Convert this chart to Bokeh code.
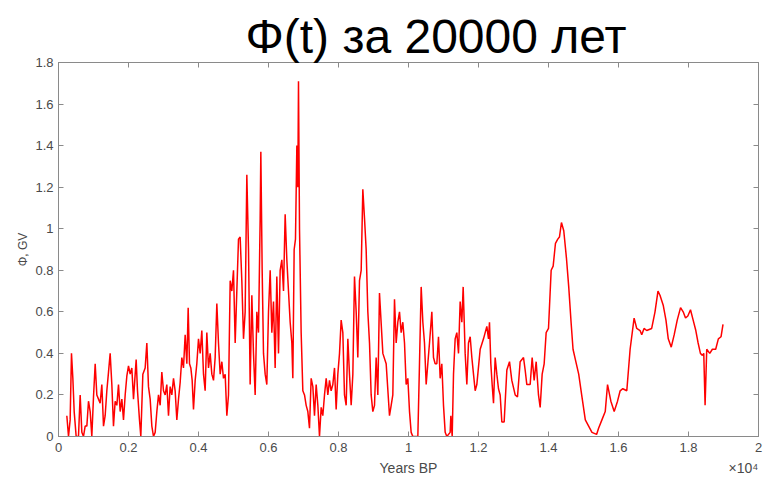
from bokeh.plotting import figure
from bokeh.models import (Range1d, FixedTicker, LinearAxis, Title)
from bokeh.embed import file_html
from bokeh.resources import INLINE

# ---- data (years BP, Phi in GV) ----
years_a = [238, 286, 333, 371, 410, 448, 505, 571, 619, 667, 714, 762, 810, 857, 905, 952,
           1000, 1048, 1095, 1143, 1190, 1238, 1286, 1333, 1381, 1429, 1476, 1524, 1571, 1619,
           1667, 1714, 1762, 1810, 1857, 1905, 1952, 2000, 2048, 2095, 2143, 2219, 2257, 2314,
           2352, 2410, 2476, 2524, 2571, 2619, 2667, 2714, 2762, 2810, 2857, 2905, 2952, 3000,
           3048, 3095, 3143, 3190, 3238, 3286, 3333, 3381, 3429, 3476, 3524, 3571, 3619, 3667,
           3705, 3743, 3781, 3819, 3857, 3905, 3952, 4000, 4048, 4095, 4143, 4190, 4238, 4286,
           4333, 4381, 4429, 4476, 4524, 4571, 4619, 4667, 4714, 4762, 4810, 4857, 4905, 4952,
           5000, 5048, 5095, 5143, 5190, 5238, 5286, 5333, 5381, 5429, 5476, 5524, 5571, 5619,
           5667, 5714, 5762, 5781, 5819, 5857, 5905, 5952, 6000, 6048, 6095, 6143, 6190, 6238,
           6286, 6333, 6381, 6429, 6476, 6524, 6571, 6619, 6667, 6695, 6733, 6771, 6810, 6838,
           6857]
phi_a = [0.10, 0.00, 0.08, 0.40, 0.28, 0.12, 0.00, 0.00, 0.20, 0.02, 0.00, 0.05, 0.05, 0.17,
         0.12, 0.00, 0.19, 0.35, 0.20, 0.18, 0.16, 0.25, 0.05, 0.10, 0.22, 0.31, 0.40, 0.25,
         0.05, 0.17, 0.15, 0.25, 0.12, 0.18, 0.08, 0.20, 0.29, 0.34, 0.30, 0.33, 0.18, 0.37,
         0.22, 0.08, 0.00, 0.30, 0.33, 0.45, 0.24, 0.18, 0.05, 0.00, 0.02, 0.12, 0.20, 0.15,
         0.31, 0.22, 0.20, 0.25, 0.10, 0.24, 0.20, 0.28, 0.22, 0.08, 0.18, 0.26, 0.38, 0.33,
         0.49, 0.35, 0.62, 0.35, 0.33, 0.27, 0.13, 0.27, 0.35, 0.47, 0.40, 0.51, 0.30, 0.22,
         0.50, 0.33, 0.40, 0.30, 0.27, 0.38, 0.64, 0.45, 0.30, 0.36, 0.28, 0.30, 0.10, 0.20,
         0.75, 0.70, 0.80, 0.45, 0.70, 0.95, 0.96, 0.75, 0.47, 0.60, 1.26, 0.90, 0.25, 0.68,
         0.40, 0.20, 0.60, 0.50, 1.05, 1.37, 0.80, 0.40, 0.30, 0.25, 0.60, 0.80, 0.50, 0.65,
         0.33, 0.77, 0.40, 0.80, 0.85, 0.70, 1.07, 0.85, 0.70, 0.55, 0.45, 0.28, 0.90, 0.95,
         1.40, 1.20, 1.71]

years_b = [6886, 6933, 6981, 7029, 7076, 7124, 7171, 7219, 7267, 7314, 7362, 7410, 7457, 7505,
           7552, 7600, 7648, 7695, 7743, 7790, 7838, 7886, 7933, 7981, 8029, 8076, 8124, 8171,
           8219, 8267, 8314, 8362, 8410, 8457, 8505, 8552, 8600, 8648, 8695, 8743, 8790, 8838,
           8886, 8933, 8981, 9029, 9076, 9124, 9171, 9267, 9362, 9457, 9505, 9552, 9600, 9648,
           9695, 9743, 9790, 9838, 9886, 9933, 9981, 10029, 10076, 10124, 10267, 10314, 10362,
           10410, 10457, 10505, 10552, 10600]
phi_b = [1.00, 0.50, 0.22, 0.20, 0.15, 0.12, 0.04, 0.28, 0.24, 0.10, 0.25, 0.15, 0.00, 0.14,
         0.10, 0.20, 0.28, 0.20, 0.27, 0.22, 0.25, 0.33, 0.13, 0.30, 0.40, 0.56, 0.50, 0.20,
         0.15, 0.47, 0.30, 0.15, 0.30, 0.77, 0.60, 0.38, 0.75, 0.80, 1.19, 1.05, 0.90, 0.60,
         0.45, 0.20, 0.12, 0.15, 0.38, 0.20, 0.69, 0.40, 0.35, 0.10, 0.15, 0.20, 0.66, 0.45,
         0.55, 0.60, 0.50, 0.55, 0.45, 0.25, 0.28, 0.12, 0.02, 0.00, 0.00, 0.35, 0.72, 0.55,
         0.45, 0.25, 0.35, 0.45]

years_c = [10667, 10714, 10762, 10810, 10857, 10905, 10952, 11000, 11048, 11095, 11190, 11210,
           11248, 11286, 11333, 11381, 11429, 11476, 11524, 11562, 11619, 11667, 11714, 11762,
           11810, 11857, 11905, 11952, 12048, 12143, 12238, 12286, 12314, 12352, 12390, 12429,
           12476, 12524, 12571, 12619, 12667, 12733, 12810, 12886, 12952, 13048, 13114, 13190,
           13286, 13333, 13381, 13476, 13533, 13590, 13648, 13714, 13762, 13819, 13876, 13933,
           14000]
phi_c = [0.60, 0.38, 0.35, 0.35, 0.48, 0.28, 0.35, 0.15, 0.02, 0.00, 0.02, 0.10, 0.00, 0.30,
         0.47, 0.50, 0.40, 0.65, 0.55, 0.72, 0.40, 0.25, 0.45, 0.48, 0.38, 0.30, 0.22, 0.25,
         0.42, 0.47, 0.53, 0.47, 0.55, 0.35, 0.25, 0.16, 0.38, 0.30, 0.23, 0.20, 0.07, 0.07,
         0.32, 0.36, 0.27, 0.20, 0.19, 0.36, 0.38, 0.32, 0.25, 0.25, 0.38, 0.27, 0.36, 0.20,
         0.14, 0.30, 0.35, 0.50, 0.52]

years_d = [14076, 14133, 14199, 14265, 14313, 14370, 14436, 14512, 14578, 14645, 14701, 14768,
           14863, 14957, 15052, 15147, 15242, 15374, 15431, 15526, 15621, 15687, 15782, 15877,
           15972, 16047, 16123, 16237, 16332, 16446, 16521, 16616, 16664, 16730, 16806, 16948,
           17043, 17128, 17185, 17280, 17356, 17422, 17507, 17592, 17678, 17773, 17848, 17915,
           17981, 18057, 18133, 18209, 18275, 18341, 18398, 18436, 18474, 18521, 18607, 18682,
           18777, 18853, 18929, 18986]
phi_d = [0.80, 0.82, 0.93, 0.95, 0.96, 1.03, 0.99, 0.86, 0.72, 0.55, 0.42, 0.37, 0.30, 0.19,
         0.08, 0.05, 0.02, 0.01, 0.04, 0.08, 0.12, 0.25, 0.17, 0.12, 0.17, 0.22, 0.23, 0.22,
         0.42, 0.57, 0.52, 0.51, 0.49, 0.52, 0.51, 0.52, 0.60, 0.70, 0.68, 0.63, 0.56, 0.47,
         0.43, 0.49, 0.56, 0.62, 0.60, 0.57, 0.58, 0.61, 0.56, 0.51, 0.45, 0.40, 0.39, 0.40,
         0.15, 0.42, 0.40, 0.42, 0.42, 0.47, 0.48, 0.54]

years = years_a + years_b + years_c + years_d
phi = phi_a + phi_b + phi_c + phi_d

x_ticks = [0, 2000, 4000, 6000, 8000, 10000, 12000, 14000, 16000, 18000, 20000]
x_tick_labels = ["0", "0.2", "0.4", "0.6", "0.8", "1", "1.2", "1.4", "1.6", "1.8", "2"]
y_ticks = [0, 0.2, 0.4, 0.6, 0.8, 1.0, 1.2, 1.4, 1.6, 1.8]
y_tick_labels = ["0", "0.2", "0.4", "0.6", "0.8", "1", "1.2", "1.4", "1.6", "1.8"]

title_text = "Φ(t) за 20000 лет"
x_label = "Years BP"
x_scale_note = "×10⁴"
y_label = "Φ, GV"

FONT = "Liberation Sans"
AX_COL = "#8a8a8a"
LBL_COL = "#4a4a4a"

p = figure(width=769, height=484, output_backend="svg", toolbar_location=None,
           x_range=Range1d(0, 20000), y_range=Range1d(0, 1.8),
           min_border_left=58, min_border_right=11, min_border_top=62,
           min_border_bottom=48, x_axis_location="below", y_axis_location="left")
p.background_fill_color = "white"
p.border_fill_color = "white"
p.outline_line_color = AX_COL
p.outline_line_width = 1
p.grid.visible = False

p.title = Title(text=title_text, text_font=FONT, text_font_size="48px",
                text_font_style="normal", text_color="black", align="left",
                offset=187, standoff=0)

def style_axis(ax, labels=True):
    ax.axis_line_color = AX_COL
    ax.major_tick_line_color = AX_COL
    ax.major_tick_in = 5
    ax.major_tick_out = 0
    ax.minor_tick_line_color = None
    ax.major_label_text_font = FONT
    ax.major_label_text_font_size = "13px"
    ax.major_label_text_color = LBL_COL
    if not labels:
        ax.major_label_text_font_size = "1px"
        ax.major_label_text_color = None
        ax.major_label_standoff = 0

xa = p.xaxis[0]
xa.ticker = FixedTicker(ticks=x_ticks)
xa.major_label_overrides = {t: l for t, l in zip(x_ticks, x_tick_labels)}
style_axis(xa)
xa.major_label_standoff = 6

# second row under the x axis: axis title and the x10^4 multiplier on one line
label_pos = [10000, 19570]
label_row = LinearAxis(ticker=FixedTicker(ticks=label_pos),
                       major_label_overrides={10000: x_label, 19570: x_scale_note})
label_row.axis_line_color = None
label_row.major_tick_line_color = None
label_row.minor_tick_line_color = None
label_row.major_tick_in = 0
label_row.major_tick_out = 0
label_row.major_label_standoff = 5
label_row.major_label_text_font = FONT
label_row.major_label_text_font_size = "14px"
label_row.major_label_text_color = LBL_COL
p.add_layout(label_row, "below")

ya = p.yaxis[0]
ya.ticker = FixedTicker(ticks=y_ticks)
ya.major_label_overrides = {t: l for t, l in zip(y_ticks, y_tick_labels)}
style_axis(ya)
ya.major_label_standoff = 5
ya.axis_label = y_label
ya.axis_label_text_font = FONT
ya.axis_label_text_font_size = "12px"
ya.axis_label_text_font_style = "normal"
ya.axis_label_text_color = LBL_COL
ya.axis_label_standoff = 2

top = LinearAxis(ticker=FixedTicker(ticks=x_ticks))
style_axis(top, labels=False)
p.add_layout(top, "above")
right = LinearAxis(ticker=FixedTicker(ticks=y_ticks))
style_axis(right, labels=False)
p.add_layout(right, "right")

p.line(years, phi, line_color="#ff0000", line_width=1.5)

open("out.html", "w").write(file_html(p, INLINE))
